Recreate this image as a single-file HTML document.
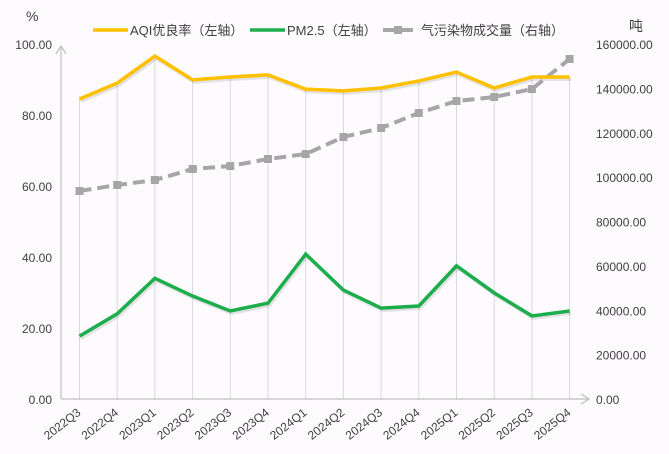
<!DOCTYPE html>
<html><head><meta charset="utf-8"><style>
body{margin:0;background:#fdfbfd;}
svg{display:block;font-family:"Liberation Sans","Noto Sans CJK SC",sans-serif;}
</style></head><body>
<svg id="c" width="669" height="454"></svg>
<script>
const categories=["2022Q3","2022Q4","2023Q1","2023Q2","2023Q3","2023Q4","2024Q1","2024Q2","2024Q3","2024Q4","2025Q1","2025Q2","2025Q3","2025Q4"];
const aqi=[84.5,89,96.6,89.9,90.7,91.3,87.3,86.8,87.6,89.6,92.1,87.6,90.7,90.7];
const pm25=[17.7,24,34,29,24.8,27,40.8,30.7,25.6,26.2,37.5,29.9,23.4,24.8];
const emissions=[93750,96450,98700,103660,105000,108170,110400,118080,122140,128900,134300,136100,139700,153240];
const leftTicks=["0.00","20.00","40.00","60.00","80.00","100.00"];
const rightTicks=["0.00","20000.00","40000.00","60000.00","80000.00","100000.00","120000.00","140000.00","160000.00"];
const NS="http://www.w3.org/2000/svg";
const svg=document.getElementById('c');
function mk(t,a,p){const e=document.createElementNS(NS,t);for(const k in a)e.setAttribute(k,a[k]);(p||svg).appendChild(e);return e;}
const y0=399,y1=44;
const yL=v=>y0-(v/100)*(y0-y1);
const yR=v=>y0-(v/160000)*(y0-y1);
const x=i=>79.5+i*37.7;
categories.forEach((c,i)=>{const l=mk('line',{x1:x(i),x2:x(i),y1:y0,y2:yL(aqi[i]),stroke:'#d9d9d9','stroke-width':1});
});
let a=mk('path',{d:`M61 ${y0} V47 M56 54 L61 46 L66 54`,stroke:'#bfbfbf',fill:'none','stroke-width':1.2});

a=mk('path',{d:`M61 ${y0} H588 M581 394 L589 399 L581 404`,stroke:'#bfbfbf',fill:'none','stroke-width':1.2});

leftTicks.forEach(t=>{const e=mk('text',{x:52,y:yL(+t)+5,'text-anchor':'end','font-size':12,fill:'#404040'});e.textContent=t;
});
rightTicks.forEach(t=>{const e=mk('text',{x:596,y:yR(+t)+5,'font-size':12,fill:'#404040'});e.textContent=t;
});
categories.forEach((c,i)=>{const tx=x(i)+2,ty=414;const e=mk('text',{x:tx,y:ty,'text-anchor':'end','font-size':12,fill:'#404040',transform:`rotate(-38 ${tx} ${ty})`});e.textContent=c;
});
let e=mk('text',{x:26,y:21,'font-size':14,fill:'#404040'});e.textContent='%';
e=mk('text',{x:629,y:31,'font-size':14,fill:'#404040'});e.textContent='吨';
function pts(arr,f){return arr.map((v,i)=>x(i)+','+f(v)).join(' ');}
mk('polyline',{points:pts(aqi,yL),transform:'translate(1.5,2.5)',fill:'none',stroke:'#000','stroke-opacity':0.1,'stroke-width':3});
mk('polyline',{points:pts(pm25,yL),transform:'translate(1.5,2.5)',fill:'none',stroke:'#000','stroke-opacity':0.1,'stroke-width':3});
let l=mk('polyline',{points:pts(emissions,yR),fill:'none',stroke:'#a6a6a6','stroke-width':4,'stroke-dasharray':'12 6'});

emissions.forEach((v,i)=>{const r=mk('rect',{x:x(i)-4,y:yR(v)-4,width:8,height:8,fill:'#a6a6a6'});
});
l=mk('polyline',{points:pts(aqi,yL),fill:'none',stroke:'#ffc000','stroke-width':3.5});

l=mk('polyline',{points:pts(pm25,yL),fill:'none',stroke:'#1cad4d','stroke-width':3.5});

const lg=mk('g',{});
mk('line',{x1:93,x2:128,y1:30,y2:30,stroke:'#ffc000','stroke-width':3.5},lg);
e=mk('text',{x:130,y:35,'font-size':13,fill:'#404040'},lg);e.textContent='AQI优良率（左轴）';
mk('line',{x1:250,x2:285,y1:30,y2:30,stroke:'#1cad4d','stroke-width':3.5},lg);
e=mk('text',{x:287,y:35,'font-size':13,fill:'#404040'},lg);e.textContent='PM2.5（左轴）';
mk('line',{x1:383,x2:413,y1:30,y2:30,stroke:'#a6a6a6','stroke-width':4},lg);
mk('rect',{x:394,y:26,width:8,height:8,fill:'#a6a6a6'},lg);
e=mk('text',{x:421,y:35,'font-size':13,fill:'#404040'},lg);e.textContent='气污染物成交量（右轴）';
</script>
</body></html>
